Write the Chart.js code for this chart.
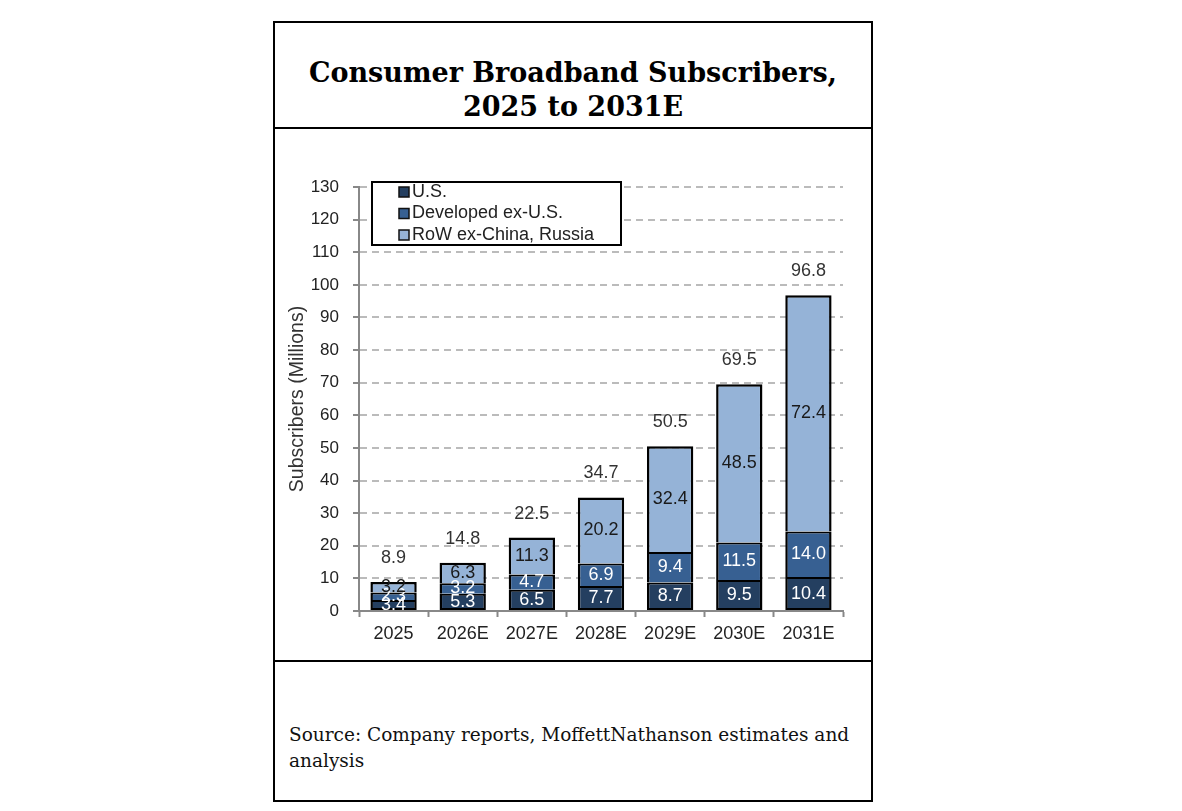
<!DOCTYPE html>
<html>
<head>
<meta charset="utf-8">
<script src="https://cdn.jsdelivr.net/npm/chart.js@4.4.1/dist/chart.umd.min.js"></script>
<style>
  body { margin: 0; background: #fff; width: 1182px; height: 811px; position: relative; overflow: hidden; }
  .sec { position: absolute; left: 273px; width: 600px; border: 2px solid #000; box-sizing: border-box; }
  #head { top: 21px; height: 108px; }
  #mid { top: 127px; height: 535px; }
  #foot { top: 660px; height: 142px; }
  #title { position: absolute; left: 0; right: 0; top: 33px; text-align: center;
    font: bold 27px "DejaVu Serif", Georgia, serif; line-height: 34px; color: #000; }
  #src { position: absolute; left: 14px; top: 60px; white-space: nowrap;
    font: 18.5px "DejaVu Serif", Georgia, serif; line-height: 26px; color: #111; }
  #wrap { position: absolute; left: 0; top: 0; width: 596px; height: 531px; }
</style>
</head>
<body>
<div class="sec" id="head"><div id="title">Consumer Broadband Subscribers,<br>2025 to 2031E</div></div>
<div class="sec" id="mid"><div id="wrap"><canvas id="myChart"></canvas></div></div>
<div class="sec" id="foot"><div id="src">Source: Company reports, MoffettNathanson estimates and<br>analysis</div></div>

<script>
const years = ['2025', '2026E', '2027E', '2028E', '2029E', '2030E', '2031E'];
const us = [3.4, 5.3, 6.5, 7.7, 8.7, 9.5, 10.4];
const developed = [2.3, 3.2, 4.7, 6.9, 9.4, 11.5, 14.0];
const rowExChina = [3.2, 6.3, 11.3, 20.2, 32.4, 48.5, 72.4];
const totals = [8.9, 14.8, 22.5, 34.7, 50.5, 69.5, 96.8];
const yTicks = [0, 10, 20, 30, 40, 50, 60, 70, 80, 90, 100, 110, 120, 130];

const font = '"Liberation Sans", Arial, sans-serif';

// value labels inside segments + totals on top
const labelPlugin = {
  id: 'labels',
  afterDatasetsDraw(chart) {
    const ctx = chart.ctx;
    ctx.save();
    ctx.font = '18px ' + font;
    ctx.textAlign = 'center';
    ctx.textBaseline = 'middle';
    chart.data.datasets.forEach((ds, i) => {
      const meta = chart.getDatasetMeta(i);
      meta.data.forEach((bar, j) => {
        ctx.fillStyle = ds.labelColor;
        ctx.fillText(ds.data[j].toFixed(1), bar.x, (bar.y + bar.base) / 2);
      });
    });
    const top = chart.getDatasetMeta(chart.data.datasets.length - 1);
    ctx.fillStyle = '#333';
    top.data.forEach((bar, j) => {
      ctx.fillText(totals[j].toFixed(1), bar.x, bar.y - 24);
    });
    ctx.restore();
  }
};

// boxed legend inside the plot, top-left
const legendPlugin = {
  id: 'boxLegend',
  afterDraw(chart) {
    const ctx = chart.ctx;
    const a = chart.chartArea;
    const x = a.left + 13, y = a.top - 5, w = 249, h = 63;
    ctx.save();
    ctx.fillStyle = '#fff';
    ctx.fillRect(x, y, w, h);
    ctx.lineWidth = 2;
    ctx.strokeStyle = '#000';
    ctx.strokeRect(x, y, w, h);
    ctx.font = '18px ' + font;
    ctx.textBaseline = 'middle';
    chart.data.datasets.forEach((ds, i) => {
      const cy = y + 10 + i * 21.5;
      ctx.fillStyle = ds.backgroundColor;
      ctx.fillRect(x + 27, cy - 5, 10, 10);
      ctx.lineWidth = 1.5;
      ctx.strokeStyle = '#111';
      ctx.strokeRect(x + 27, cy - 5, 10, 10);
      ctx.fillStyle = '#222';
      ctx.fillText(ds.label, x + 40, cy);
    });
    ctx.restore();
  }
};

const ctx = document.getElementById('myChart');
new Chart(ctx, {
  type: 'bar',
  data: {
    labels: years,
    datasets: [
      { label: 'U.S.', data: us, backgroundColor: '#243f60', labelColor: '#fff',
        borderWidth: { top: 2, bottom: 2, left: 2.5, right: 2.5 } },
      { label: 'Developed ex-U.S.', data: developed, backgroundColor: '#376092', labelColor: '#fff',
        borderWidth: { top: 2, bottom: 0, left: 2.5, right: 2.5 } },
      { label: 'RoW ex-China, Russia', data: rowExChina, backgroundColor: '#95b3d7', labelColor: '#1a1a1a',
        borderWidth: { top: 2.5, bottom: 0, left: 2.5, right: 2.5 } }
    ].map(d => Object.assign(d, {
      borderColor: '#000', borderSkipped: false,
      categoryPercentage: 1, barPercentage: 0.67
    }))
  },
  options: {
    responsive: true,
    maintainAspectRatio: false,
    animation: false,
    layout: { padding: { left: 0, right: 28, top: 58, bottom: 15 } },
    plugins: { legend: { display: false }, tooltip: { enabled: false } },
    scales: {
      x: {
        stacked: true,
        afterFit: s => { s.height = 34; },
        grid: { drawOnChartArea: false, drawTicks: true, tickLength: 6, tickColor: '#888', tickWidth: 2, offset: true },
        border: { color: '#888', width: 2 },
        ticks: { color: '#222', font: { size: 18, family: font }, padding: 6 }
      },
      y: {
        stacked: true,
        min: 0, max: 130,
        afterFit: s => { s.width = 84; },
        afterBuildTicks: s => { s.ticks = yTicks.map(v => ({ value: v })); },
        grid: { color: '#bbbbbb', lineWidth: 2, drawTicks: true, tickLength: 6, tickColor: '#888', tickWidth: 2 },
        border: { color: '#888', width: 2, dash: [7, 5] },
        ticks: { color: '#222', font: { size: 17, family: font }, padding: 14 },
        title: { display: true, text: 'Subscribers (Millions)', color: '#333', font: { size: 19.5, family: font }, padding: { top: 11, bottom: 0 } }
      }
    }
  },
  plugins: [labelPlugin, legendPlugin]
});
</script>
</body>
</html>
